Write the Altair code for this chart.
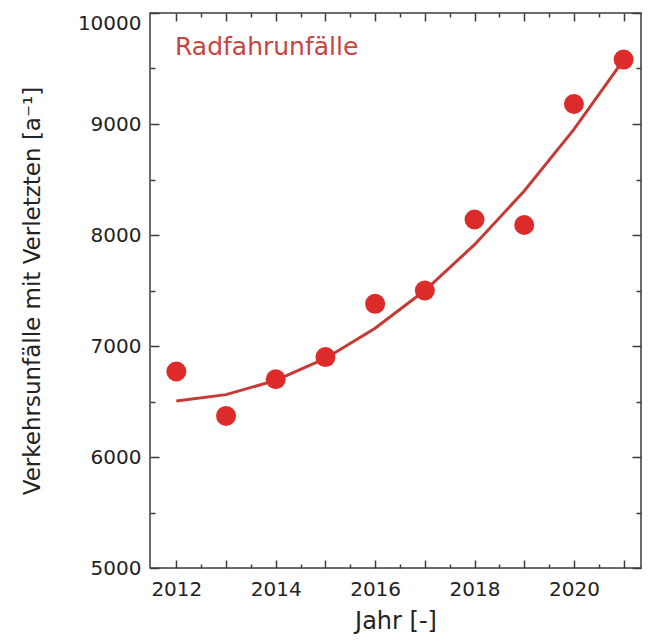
import altair as alt
import pandas as pd

# ---- data ----
years = [2012, 2013, 2014, 2015, 2016, 2017, 2018, 2019, 2020, 2021]
accidents = [6770, 6370, 6700, 6900, 7380, 7500, 8140, 8090, 9180, 9580]
fit_values = [6505, 6562, 6690, 6888, 7160, 7500, 7913, 8396, 8951, 9578]

x_label_ticks = [2012, 2014, 2016, 2018, 2020]
x_major_ticks = [2012, 2013, 2014, 2015, 2016, 2017, 2018, 2019, 2020, 2021]
x_minor_ticks = [2012.5, 2013.5, 2014.5, 2015.5, 2016.5, 2017.5, 2018.5, 2019.5, 2020.5]
y_label_ticks = [5000, 6000, 7000, 8000, 9000]
y_top_label = [10000]
y_major_ticks = [5000, 6000, 7000, 8000, 9000, 10000]
y_minor_ticks = [5500, 6500, 7500, 8500, 9500]
annotation = ["Radfahrunfälle"]

x_domain = [2011.47, 2021.35]
y_domain = [5000, 10000]

W, H = 491, 555
FONT = "DejaVu Sans"
AX = "#3c3c3c"
TXT = "#222222"
RED_PT = "#dd2b2b"
RED_LN = "#c63a35"
RED_TX = "#c9443f"

pts = pd.DataFrame({"Jahr": years, "Unfaelle": accidents})
fit = pd.DataFrame({"Jahr": years, "Fit": fit_values})
note = pd.DataFrame({"t": annotation})

xs = alt.Scale(domain=x_domain, nice=False, zero=False)
ys = alt.Scale(domain=y_domain, nice=False, zero=False)


def tick_axis(orient, offset, values, size):
    return alt.Axis(orient=orient, offset=offset, values=values, labels=False,
                    domain=False, grid=False, ticks=True, tickSize=size,
                    tickColor=AX, tickWidth=1.5, title=None)


# main labelled axes (no ticks; inward ticks come from helper axes)
x_lab = alt.Axis(orient="bottom", values=x_label_ticks, format="d", ticks=False,
                 tickSize=0, domain=False, grid=False, labelFont=FONT,
                 labelFontSize=20, labelColor=TXT, labelPadding=11,
                 title="Jahr [-]", titleFont=FONT, titleFontSize=24,
                 titleFontWeight="normal", titleColor=TXT, titlePadding=10)
y_lab = alt.Axis(orient="left", values=y_label_ticks, format="d", ticks=False,
                 tickSize=0, domain=False, grid=False, labelFont=FONT,
                 labelFontSize=20, labelColor=TXT, labelPadding=9,
                 title="Verkehrsunfälle mit Verletzten [a⁻¹]", titleFont=FONT,
                 titleFontSize=23, titleFontWeight="normal", titleColor=TXT,
                 titlePadding=46)
y_lab_top = alt.Axis(orient="left", values=y_top_label, format="d", ticks=False,
                     tickSize=0, domain=False, grid=False, labelFont=FONT,
                     labelFontSize=20, labelColor=TXT, labelPadding=9,
                     labelFlush=True, title=None)

line = alt.Chart(fit).mark_line(color=RED_LN, strokeWidth=3).encode(
    x=alt.X("Jahr:Q", scale=xs, axis=x_lab),
    y=alt.Y("Fit:Q", scale=ys, axis=y_lab),
)

points = alt.Chart(pts).mark_circle(color=RED_PT, opacity=1, size=400).encode(
    x=alt.X("Jahr:Q", scale=xs, axis=tick_axis("top", -H, x_major_ticks, 8)),
    y=alt.Y("Unfaelle:Q", scale=ys, axis=tick_axis("right", -W, y_major_ticks, 9)),
)

helper1 = alt.Chart(pts).mark_circle(opacity=0).encode(
    x=alt.X("Jahr:Q", scale=xs, axis=tick_axis("top", -H, x_minor_ticks, 4)),
    y=alt.Y("Unfaelle:Q", scale=ys, axis=tick_axis("right", -W, y_minor_ticks, 5)),
)
helper2 = alt.Chart(pts).mark_circle(opacity=0).encode(
    x=alt.X("Jahr:Q", scale=xs, axis=tick_axis("bottom", -H, x_major_ticks, 8)),
    y=alt.Y("Unfaelle:Q", scale=ys, axis=tick_axis("left", -W, y_major_ticks, 9)),
)
helper3 = alt.Chart(pts).mark_circle(opacity=0).encode(
    x=alt.X("Jahr:Q", scale=xs, axis=tick_axis("bottom", -H, x_minor_ticks, 4)),
    y=alt.Y("Unfaelle:Q", scale=ys, axis=tick_axis("left", -W, y_minor_ticks, 5)),
)
helper4 = alt.Chart(pts).mark_circle(opacity=0).encode(
    x=alt.X("Jahr:Q", scale=xs, axis=None),
    y=alt.Y("Unfaelle:Q", scale=ys, axis=y_lab_top),
)

text = alt.Chart(note).mark_text(align="left", baseline="middle", font=FONT,
                                 fontSize=25, color=RED_TX).encode(
    x=alt.value(25), y=alt.value(34), text="t:N")

chart = alt.layer(line, points, helper1, helper2, helper3, helper4, text).resolve_axis(
    x="independent", y="independent"
).properties(
    width=W, height=H,
    autosize=alt.AutoSizeParams(type="none"),
    padding={"left": 142, "top": 5, "right": 1, "bottom": 67},
    background="white",
).configure_view(stroke=AX, strokeWidth=1.5)

chart.save("out.html", embed_options={"renderer": "svg", "actions": False})
